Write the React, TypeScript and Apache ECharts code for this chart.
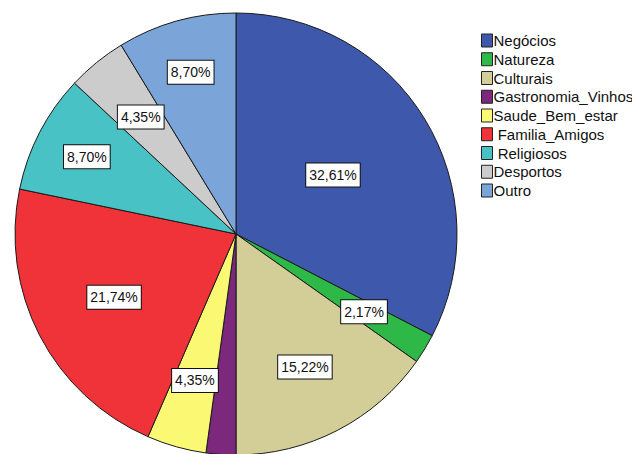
import React, { useEffect, useRef } from "react";
import * as echarts from "echarts";

const categories = [
  "Negócios",
  "Natureza",
  "Culturais",
  "Gastronomia_Vinhos",
  "Saude_Bem_estar",
  " Familia_Amigos",
  " Religiosos",
  "Desportos",
  "Outro",
];
const counts = [15, 1, 7, 1, 2, 10, 4, 2, 4];
const colors = [
  "#3e58ac",
  "#2eb848",
  "#d3ce97",
  "#7c287d",
  "#fbf873",
  "#ef3338",
  "#48c2c5",
  "#cccccc",
  "#7ba4d9",
];
const showLabel = [true, true, true, false, true, true, true, true, true];
// radial push of each label relative to the default "inside" radius
const labelRadiusFactor = [1.0, 1.32, 1.32, 1.0, 1.34, 1.21, 1.48, 1.33, 1.48];

const CX = 236;
const CY = 234;
const R = 221;

export default function App() {
  const ref = useRef<HTMLDivElement>(null);
  useEffect(() => {
    if (!ref.current) return;
    const chart = echarts.init(ref.current, undefined, { renderer: "svg" });
    const total = counts.reduce((a, b) => a + b, 0);
    const font = "'Liberation Sans', Arial, sans-serif";
    chart.setOption({
      animation: false,
      backgroundColor: "#ffffff",
      legend: {
        orient: "vertical",
        left: 476,
        top: 28,
        itemWidth: 11,
        itemHeight: 13,
        itemGap: 3.75,
        icon: "rect",
        itemStyle: { borderColor: "#222", borderWidth: 1 },
        textStyle: {
          fontFamily: font,
          fontSize: 15,
          color: "#111",
          lineHeight: 14,
          padding: [0, 0, 0, -4],
        },
        data: categories,
      },
      series: [
        {
          type: "pie",
          center: [CX, CY],
          radius: [0, R],
          startAngle: 90,
          clockwise: true,
          silent: true,
          itemStyle: { borderColor: "#1a1a1a", borderWidth: 1 },
          label: {
            position: "inside",
            formatter: (p: any) =>
              ((p.value / total) * 100).toFixed(2).replace(".", ",") + "%",
            backgroundColor: "#ffffff",
            borderColor: "#111",
            borderWidth: 1,
            padding: [5, 3, 4, 3],
            color: "#111",
            fontFamily: font,
            fontSize: 14,
          },
          labelLine: { show: false },
          labelLayout: (params: any) => {
            const f = labelRadiusFactor[params.dataIndex];
            const r = params.labelRect;
            const lx = r.x + r.width / 2;
            const ly = r.y + r.height / 2;
            return { dx: (lx - CX) * (f - 1), dy: (ly - CY) * (f - 1) };
          },
          data: categories.map((name, i) => ({
            name,
            value: counts[i],
            itemStyle: { color: colors[i] },
            label: { show: showLabel[i] },
          })),
        },
      ],
    });
    return () => chart.dispose();
  }, []);
  return (
    <div
      ref={ref}
      style={{ position: "absolute", left: 0, top: 0, width: 632, height: 454 }}
    />
  );
}
